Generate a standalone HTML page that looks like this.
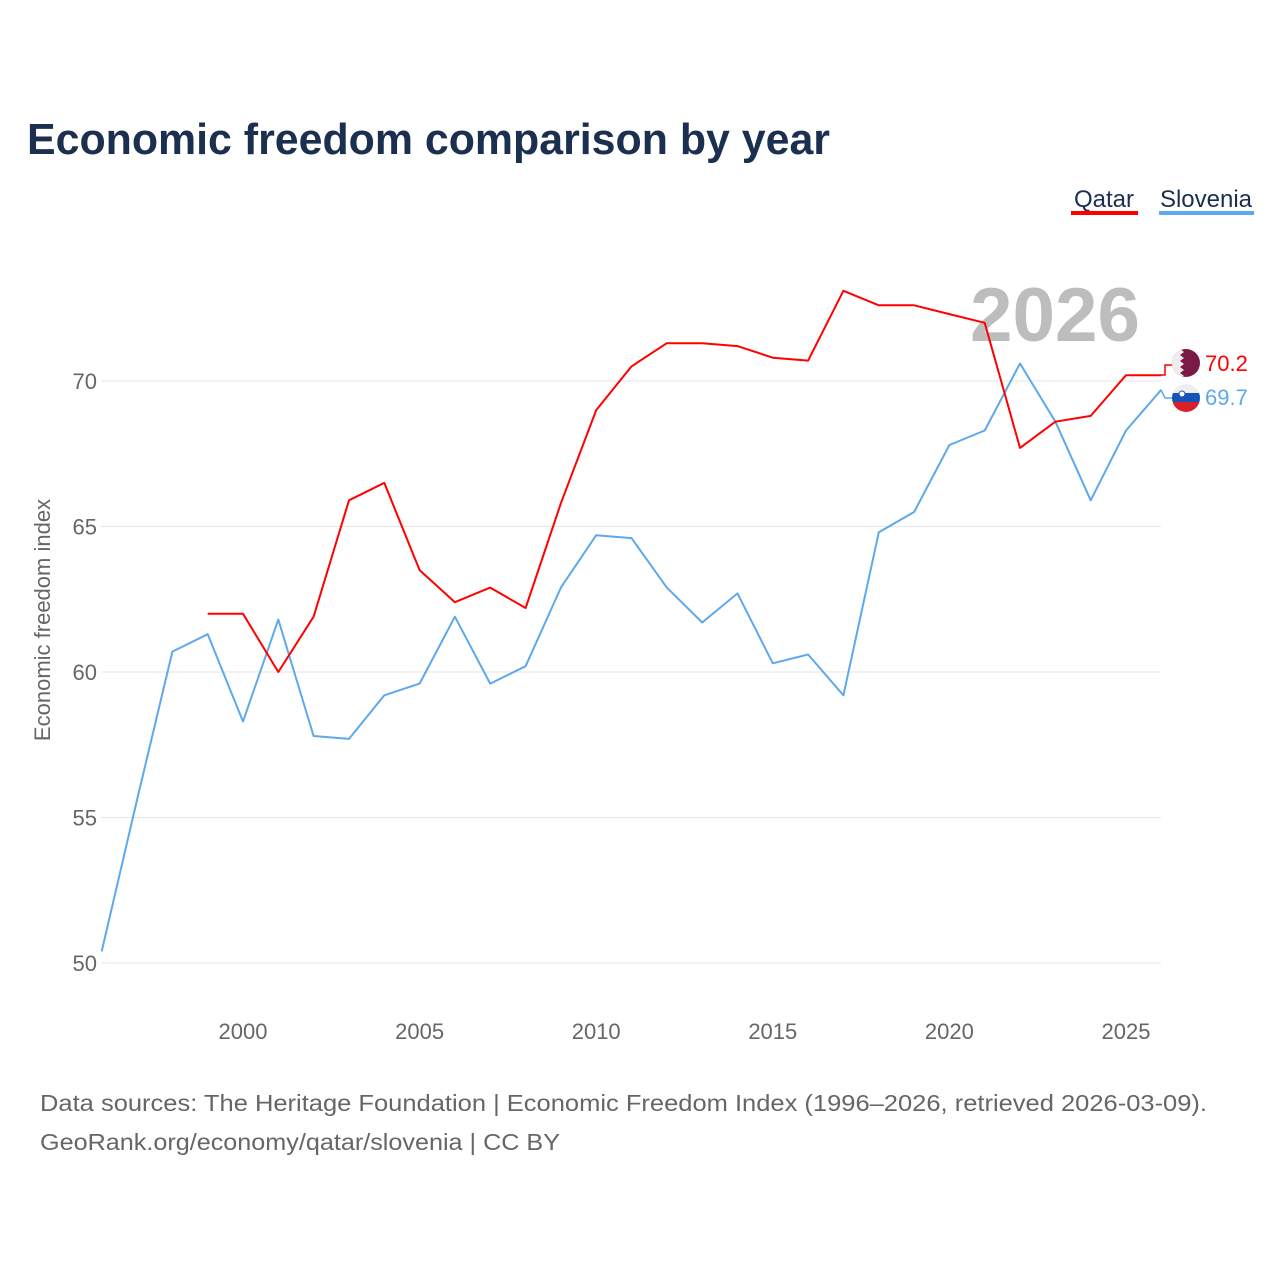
<!DOCTYPE html>
<html><head><meta charset="utf-8"><style>
body{margin:0;background:#fff;width:1280px;height:1280px;overflow:hidden;font-family:"Liberation Sans",sans-serif}
</style></head><body>
<svg id="chart" width="1280" height="1280" xmlns="http://www.w3.org/2000/svg" font-family="Liberation Sans, sans-serif">
<text x="27" y="154" font-size="44" font-weight="bold" fill="#1b2f4f" textLength="803" lengthAdjust="spacingAndGlyphs">Economic freedom comparison by year</text>
<g>
<text x="1104" y="207" font-size="24" fill="#1b2f4f" text-anchor="middle">Qatar</text>
<rect x="1071" y="211" width="67" height="4" fill="#ff0000"/>
<text x="1206" y="207" font-size="24" fill="#1b2f4f" text-anchor="middle">Slovenia</text>
<rect x="1159" y="211" width="95" height="4" fill="#5ea8ec"/>
</g>
<text x="970" y="341" font-size="76" font-weight="bold" fill="#bdbdbd" textLength="170" lengthAdjust="spacingAndGlyphs">2026</text>
<g id="grid"></g>
<g id="xt"></g>
<text transform="translate(50,620) rotate(-90)" font-size="22" fill="#666" text-anchor="middle">Economic freedom index</text>
<g id="lines"></g>
<g>
<polyline points="1161,375 1165,375 1165,365 1172,365" fill="none" stroke="#ff0000" stroke-width="1.5"/>
<polyline points="1161,390 1165,398 1172,398" fill="none" stroke="#5ea8ec" stroke-width="1.5"/>
<g>
<clipPath id="cq"><circle cx="1186" cy="363" r="14"/></clipPath>
<g clip-path="url(#cq)"><rect x="1172" y="349" width="28" height="28" fill="#7a1a46"/><polygon points="1172,349 1180,349 1184,352 1180,355 1184,358 1180,361 1184,364 1180,367 1184,370 1180,373 1184,376 1180,377 1172,377" fill="#eee"/></g></g>
<g>
<clipPath id="cs"><circle cx="1186" cy="398" r="14"/></clipPath>
<g clip-path="url(#cs)"><rect x="1172" y="384" width="28" height="10" fill="#eee"/><rect x="1172" y="393" width="28" height="9" fill="#1652b8"/><rect x="1172" y="402" width="28" height="10" fill="#d8202a"/><circle cx="1182" cy="394" r="3" fill="#fff" stroke="#1652b8"/></g></g>
<text x="1205" y="371" font-size="22" fill="#ff0000">70.2</text>
<text x="1205" y="405" font-size="22" fill="#5ea8ec">69.7</text>
</g>
<text x="40" y="1111" font-size="23" fill="#666" textLength="1167" lengthAdjust="spacingAndGlyphs">Data sources: The Heritage Foundation | Economic Freedom Index (1996–2026, retrieved 2026-03-09).</text>
<text x="40" y="1150" font-size="23" fill="#666" textLength="520" lengthAdjust="spacingAndGlyphs">GeoRank.org/economy/qatar/slovenia | CC BY</text>
</svg>
<script>
const years=[1996,1997,1998,1999,2000,2001,2002,2003,2004,2005,2006,2007,2008,2009,2010,2011,2012,2013,2014,2015,2016,2017,2018,2019,2020,2021,2022,2023,2024,2025,2026];
const slovenia=[50.4,55.6,60.7,61.3,58.3,61.8,57.8,57.7,59.2,59.6,61.9,59.6,60.2,62.9,64.7,64.6,62.9,61.7,62.7,60.3,60.6,59.2,64.8,65.5,67.8,68.3,70.6,68.6,65.9,68.3,69.7];
const qatar=[null,null,null,62.0,62.0,60.0,61.9,65.9,66.5,63.5,62.4,62.9,62.2,65.8,69.0,70.5,71.3,71.3,71.2,70.8,70.7,73.1,72.6,72.6,72.3,72.0,67.7,68.6,68.8,70.2,70.2];
const yTicks=[50,55,60,65,70];
const xTicks=[2000,2005,2010,2015,2020,2025];
const NS="http://www.w3.org/2000/svg";
const x=v=>243+(v-2000)*35.32;
const y=v=>381-(v-70)*29.1;
function mk(t,a,p){const e=document.createElementNS(NS,t);for(const k in a)e.setAttribute(k,a[k]);p.appendChild(e);return e;}
const grid=document.getElementById('grid');
yTicks.forEach(t=>{
 const l=mk('line',{x1:101,x2:1161,y1:y(t),y2:y(t),stroke:'#e6e6e6','stroke-width':1},grid);
 
 
 const tx=mk('text',{x:97,y:y(t)+8,'font-size':22,fill:'#666','text-anchor':'end'},grid);
 tx.textContent=t;
 
 
});
const xt=document.getElementById('xt');
xTicks.forEach(t=>{
 const tx=mk('text',{x:x(t),y:1039,'font-size':22,fill:'#666','text-anchor':'middle'},xt);
 tx.textContent=t;
 
 
});
const lines=document.getElementById('lines');
function draw(vals,color,name){
 const pts=[];vals.forEach((v,i)=>{if(v!=null)pts.push(x(years[i]).toFixed(1)+','+y(v).toFixed(1));});
 const p=mk('polyline',{points:pts.join(' '),fill:'none',stroke:color,'stroke-width':2,'stroke-linejoin':'round'},lines);
 
 
}
draw(slovenia,'#5ea8ec','slovenia-line');
draw(qatar,'#ff0000','qatar-line');
</script>
</body></html>
